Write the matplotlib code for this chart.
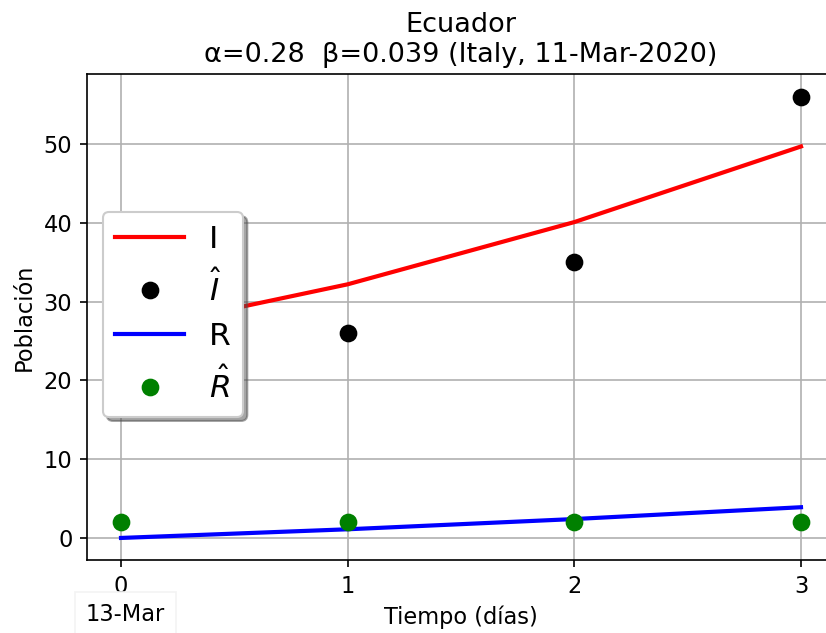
import numpy as np
import matplotlib
matplotlib.use("Agg")
from matplotlib import pyplot as plt
import matplotlib.transforms as mtransforms

# dias desde el 13 de marzo
dias = [0, 1, 2, 3]

# modelo SIR con parametros de Italia
I_modelo = [26.1, 32.2, 40.1, 49.7]
R_modelo = [0.0, 1.1, 2.4, 3.9]

# datos observados de Ecuador
I_obs = [26, 26, 35, 56]
R_obs = [2, 2, 2, 2]

pais = "Ecuador"
alpha, beta = 0.28, 0.039
fecha_inicio = "13-Mar"

plt.rcParams["font.size"] = 10.8

fig = plt.figure(figsize=(826 / 150, 633 / 150), dpi=150)
ax = fig.add_axes([87 / 826, 73 / 633, 748 / 826, 486 / 633])

ax.plot(dias, I_modelo, color="red", linewidth=2, label="I")
ax.plot(dias, I_obs, "o", color="black", markersize=7.5, label=r"$\hat{I}$")
ax.plot(dias, R_modelo, color="blue", linewidth=2, label="R")
ax.plot(dias, R_obs, "o", color="green", markersize=7.5, label=r"$\hat{R}$")

ax.set_xlim(-0.15, 3.15)
ax.set_ylim(-2.8, 58.9)
ax.set_xticks(dias)
ax.set_yticks(np.arange(0, 60, 10))
ax.grid(True, color="#b0b0b0", linewidth=0.8)

ax.set_xlabel("Tiempo (días)")
ax.set_ylabel("Población")
ax.set_title(pais + "\n" + "α=" + str(alpha) + "  β=" + str(beta) + " (Italy, 11-Mar-2020)", fontsize=13)

ax.legend(loc="upper left", bbox_to_anchor=(0.0, 0.748), fontsize=15, handlelength=2.2,
          shadow=True, framealpha=1)

trans = mtransforms.blended_transform_factory(ax.transData, ax.transAxes)
ax.text(0.02, -0.112, fecha_inicio, transform=trans, ha="center", va="center",
        bbox=dict(boxstyle="square,pad=0.5", facecolor="white", edgecolor="#f3f3f3", linewidth=0.8))

fig.savefig("out.png", dpi=150)
